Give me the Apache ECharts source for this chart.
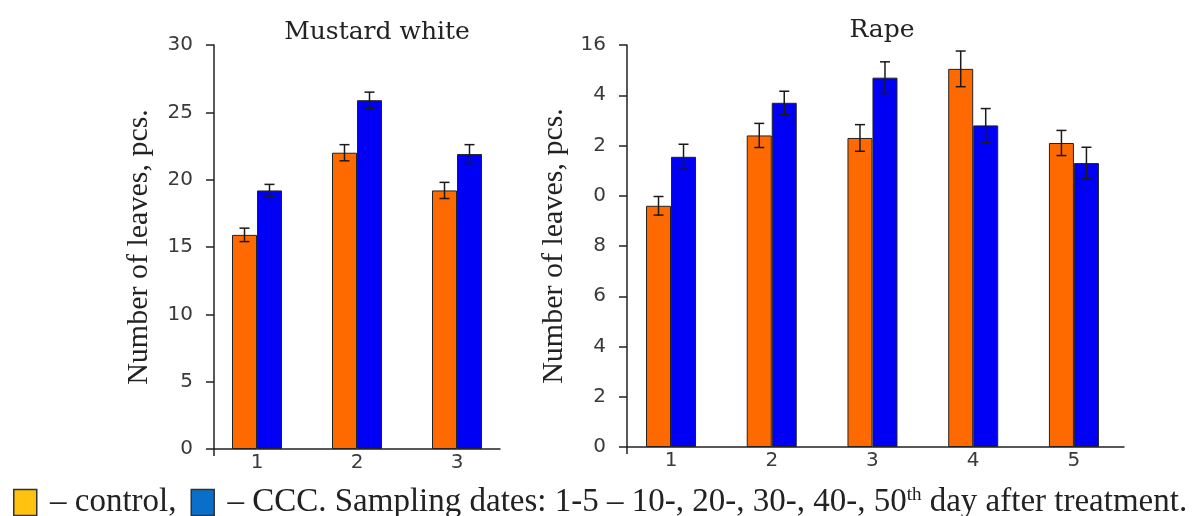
<!DOCTYPE html>
<html>
<head>
<meta charset="utf-8">
<script src="https://cdn.jsdelivr.net/npm/echarts@6/dist/echarts.min.js"></script>
<style>
html,body{margin:0;padding:0;background:#fff;}
#chart{width:1194px;height:516px;}
</style>
</head>
<body>
<div id="chart"></div>
<script>
// ---- data ----
var mustardDays = [1, 2, 3];
var mustardControl = [15.9, 22.0, 19.2];
var mustardControlErr = [0.5, 0.6, 0.6];
var mustardCCC = [19.2, 25.9, 21.9];
var mustardCCCErr = [0.45, 0.6, 0.7];

var rapeDays = [1, 2, 3, 4, 5];
var rapeControl = [9.6, 12.4, 12.3, 15.05, 12.1];
var rapeControlErr = [0.37, 0.48, 0.53, 0.71, 0.5];
var rapeCCC = [11.55, 13.7, 14.7, 12.8, 11.3];
var rapeCCCErr = [0.5, 0.46, 0.63, 0.67, 0.63];

var rapeTickLabels = ['0', '2', '4', '6', '8', '0', '2', '4', '16'];

var BAR_W = 25;
var ORANGE = '#FF6A00';
var BLUE = '#0000F5';

function pairs(xs, ys) { return xs.map(function (x, i) { return [x, ys[i]]; }); }
function errData(xs, ys, es) { return xs.map(function (x, i) { return [x, ys[i], es[i]]; }); }

function errSeries(name, xi, yi, data, offset) {
  return {
    type: 'custom', name: name, xAxisIndex: xi, yAxisIndex: yi, z: 10,
    silent: true, data: data,
    renderItem: function (params, api) {
      var x = api.value(0), y = api.value(1), e = api.value(2);
      var top = api.coord([x, y + e]);
      var bot = api.coord([x, y - e]);
      var cx = top[0] + offset;
      var hw = 5;
      var st = { stroke: '#1a1a1a', lineWidth: 1.5 };
      return {
        type: 'group', children: [
          { type: 'line', shape: { x1: cx, y1: top[1], x2: cx, y2: bot[1] }, style: st },
          { type: 'line', shape: { x1: cx - hw, y1: top[1], x2: cx + hw, y2: top[1] }, style: st },
          { type: 'line', shape: { x1: cx - hw, y1: bot[1], x2: cx + hw, y2: bot[1] }, style: st }
        ]
      };
    }
  };
}

var axisLine = { show: true, lineStyle: { color: '#222', width: 1.5 } };
var labelStyle = { fontFamily: 'DejaVu Sans', fontSize: 20, color: '#3a3a3a' };
var nameStyle = { fontFamily: 'Liberation Serif', fontSize: 30, color: '#222' };

var option = {
  animation: false,
  backgroundColor: '#fff',
  title: [
    { text: 'Mustard white', left: 372, top: 15, textAlign: 'center',
      textStyle: { fontFamily: 'DejaVu Serif', fontSize: 25, fontWeight: 'normal', color: '#222' } },
    { text: 'Rape', left: 877, top: 13, textAlign: 'center',
      textStyle: { fontFamily: 'DejaVu Serif', fontSize: 25, fontWeight: 'normal', color: '#222' } }
  ],
  legend: {
    left: 13, top: 486, padding: 0,
    itemWidth: 23, itemHeight: 26, itemGap: 14, icon: 'rect',
    selectedMode: false,
    data: [
      { name: 'control', itemStyle: { color: '#FFC20E', borderColor: '#333', borderWidth: 1.5 } },
      { name: 'CCC', itemStyle: { color: '#0A6FC8', borderColor: '#333', borderWidth: 1.5 } }
    ],
    formatter: function (n) {
      return n === 'control' ? ' \u2013 control,' :
        ' \u2013 CCC. Sampling dates: 1-5 \u2013 10-, 20-, 30-, 40-, 50{sup|th} day after treatment.';
    },
    textStyle: {
      fontFamily: 'Liberation Serif', fontSize: 33, color: '#222',
      rich: { sup: { fontFamily: 'Liberation Serif', fontSize: 19, color: '#222', verticalAlign: 'top' } }
    }
  },
  grid: [
    { left: 214, top: 45, width: 286, height: 404 },
    { left: 627, top: 45, width: 497, height: 402 }
  ],
  xAxis: [
    { type: 'value', gridIndex: 0, min: 0.57, max: 3.43,
      axisLine: axisLine, splitLine: { show: false },
      axisTick: { show: true, customValues: [0.57], length: 7, lineStyle: { color: '#222', width: 1.5 } },
      axisLabel: Object.assign({ customValues: mustardDays, margin: 4 }, labelStyle) },
    { type: 'value', gridIndex: 1, min: 0.563, max: 5.497,
      axisLine: axisLine, splitLine: { show: false },
      axisTick: { show: true, customValues: [0.563], length: 7, lineStyle: { color: '#222', width: 1.5 } },
      axisLabel: Object.assign({ customValues: rapeDays, margin: 4 }, labelStyle) }
  ],
  yAxis: [
    { type: 'value', gridIndex: 0, min: 0, max: 30, interval: 5,
      name: 'Number of leaves, pcs.', nameLocation: 'middle', nameGap: 60, nameTextStyle: nameStyle,
      axisLine: axisLine, splitLine: { show: false },
      axisTick: { show: true, length: 8, lineStyle: { color: '#222', width: 1.5 } },
      axisLabel: Object.assign({ margin: 21 }, labelStyle) },
    { type: 'value', gridIndex: 1, min: 0, max: 16, interval: 2,
      name: 'Number of leaves, pcs.', nameLocation: 'middle', nameGap: 58, nameTextStyle: nameStyle,
      axisLine: axisLine, splitLine: { show: false },
      axisTick: { show: true, length: 8, lineStyle: { color: '#222', width: 1.5 } },
      axisLabel: Object.assign({ margin: 21, formatter: function (v) { return rapeTickLabels[Math.round(v / 2)]; } }, labelStyle) }
  ],
  series: [
    { type: 'bar', name: 'control', xAxisIndex: 0, yAxisIndex: 0, barWidth: BAR_W, barGap: '0%',
      itemStyle: { color: ORANGE, borderColor: '#222', borderWidth: 1 }, data: pairs(mustardDays, mustardControl) },
    { type: 'bar', name: 'CCC', xAxisIndex: 0, yAxisIndex: 0, barWidth: BAR_W, barGap: '0%',
      itemStyle: { color: BLUE, borderColor: '#222', borderWidth: 1 }, data: pairs(mustardDays, mustardCCC) },
    { type: 'bar', name: 'control', xAxisIndex: 1, yAxisIndex: 1, barWidth: BAR_W, barGap: '0%',
      itemStyle: { color: ORANGE, borderColor: '#222', borderWidth: 1 }, data: pairs(rapeDays, rapeControl) },
    { type: 'bar', name: 'CCC', xAxisIndex: 1, yAxisIndex: 1, barWidth: BAR_W, barGap: '0%',
      itemStyle: { color: BLUE, borderColor: '#222', borderWidth: 1 }, data: pairs(rapeDays, rapeCCC) },
    errSeries('err-m-control', 0, 0, errData(mustardDays, mustardControl, mustardControlErr), -BAR_W / 2),
    errSeries('err-m-ccc', 0, 0, errData(mustardDays, mustardCCC, mustardCCCErr), BAR_W / 2),
    errSeries('err-r-control', 1, 1, errData(rapeDays, rapeControl, rapeControlErr), -BAR_W / 2),
    errSeries('err-r-ccc', 1, 1, errData(rapeDays, rapeCCC, rapeCCCErr), BAR_W / 2)
  ]
};

var chart = echarts.init(document.getElementById('chart'), null, { renderer: 'canvas' });
chart.setOption(option);
</script>
</body>
</html>
